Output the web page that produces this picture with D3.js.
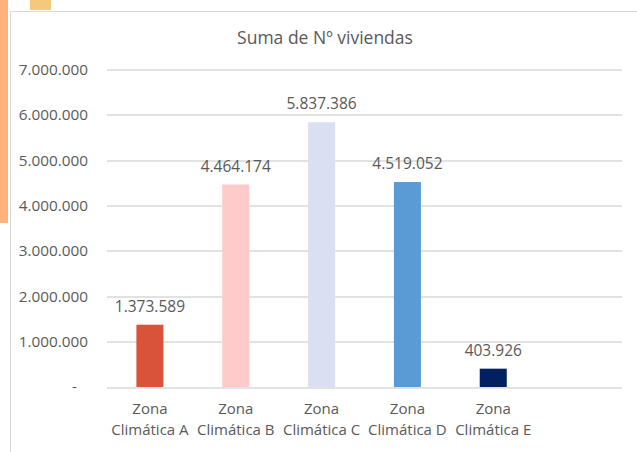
<!DOCTYPE html>
<html>
<head>
<meta charset="utf-8">
<script src="https://cdn.jsdelivr.net/npm/d3@7"></script>
<style>
  body { margin: 0; background: #fff; }
  text { font-family: "Open Sans", "Noto Sans", sans-serif; fill: #595959; }
</style>
</head>
<body>
<div id="chart"></div>
<script>
var zonas = ["Zona Climática A", "Zona Climática B", "Zona Climática C", "Zona Climática D", "Zona Climática E", ""];
var viviendas = [1373589, 4464174, 5837386, 4519052, 403926];
var colores = ["#D9533A", "#FFCACA", "#DAE0F2", "#5B9BD5", "#002060"];
var yTicks = [0, 1000000, 2000000, 3000000, 4000000, 5000000, 6000000, 7000000];

var W = 637, H = 452;
var margin = {top: 69.5, right: 15, bottom: 65, left: 107};
var width = W - margin.left - margin.right,
    height = H - margin.top - margin.bottom;

var es = d3.formatLocale({decimal: ",", thousands: ".", grouping: [3], currency: ["", " €"]});
var fmt = es.format(",d");

var svg = d3.select("#chart").append("svg")
    .attr("width", W)
    .attr("height", H);

// decoration bits behind the chart
svg.append("rect").attr("x", 0).attr("y", 0).attr("width", 8).attr("height", 223).attr("fill", "#FFB27C");
svg.append("rect").attr("x", 30).attr("y", 0).attr("width", 21).attr("height", 10).attr("fill", "#F4C97C");
svg.append("rect").attr("x", 10.5).attr("y", 11.5).attr("width", 640).attr("height", 460)
    .attr("fill", "#fff").attr("stroke", "#D9D9D9");

svg.append("text")
    .attr("x", 325).attr("y", 44)
    .attr("text-anchor", "middle")
    .style("font-size", "17.5px")
    .text("Suma de Nº viviendas");

var g = svg.append("g").attr("transform", "translate(" + margin.left + "," + margin.top + ")");

var x = d3.scaleBand().domain(zonas).range([0, width]).paddingInner(0.685).paddingOuter(0.3425);
var y = d3.scaleLinear().domain([0, 7000000]).range([height, 0]);

// grid
g.selectAll(".grid").data(yTicks).enter().append("line")
    .attr("x1", 0).attr("x2", width)
    .attr("y1", function(d) { return Math.round(y(d)) + 0.5; })
    .attr("y2", function(d) { return Math.round(y(d)) + 0.5; })
    .attr("stroke", "#D9D9D9").attr("stroke-width", 1.5);

// y axis labels
var yAxis = g.append("g")
    .call(d3.axisLeft(y).tickValues(yTicks).tickSize(0).tickPadding(19)
        .tickFormat(function(d) { return d === 0 ? "-" : fmt(d); }));
yAxis.select(".domain").remove();
yAxis.selectAll("text").style("font-size", "15.3px").attr("fill", "#595959")
    .style("font-family", "'Open Sans', sans-serif")
    .attr("dx", function(d) { return d === 0 ? -11 : 0; });

// bars
g.selectAll(".bar").data(viviendas).enter().append("rect")
    .attr("x", function(d, i) { return x(zonas[i]); })
    .attr("width", x.bandwidth())
    .attr("y", function(d) { return y(d); })
    .attr("height", function(d) { return height - y(d); })
    .attr("fill", function(d, i) { return colores[i]; });

// value labels
g.selectAll(".lbl").data(viviendas).enter().append("text")
    .attr("x", function(d, i) { return x(zonas[i]) + x.bandwidth() / 2; })
    .attr("y", function(d) { return y(d) - 13; })
    .attr("text-anchor", "middle")
    .style("font-size", "15.5px")
    .text(function(d) { return fmt(d); });

// category labels, two lines
var xAxis = g.append("g").attr("transform", "translate(0," + height + ")");
zonas.forEach(function(z) {
    if (!z) return;
    var cx = x(z) + x.bandwidth() / 2;
    var t = xAxis.append("text").attr("text-anchor", "middle").style("font-size", "15px");
    t.append("tspan").attr("x", cx).attr("y", 27).text("Zona");
    t.append("tspan").attr("x", cx).attr("y", 48).text(z.replace("Zona ", ""));
});
</script>
</body>
</html>
